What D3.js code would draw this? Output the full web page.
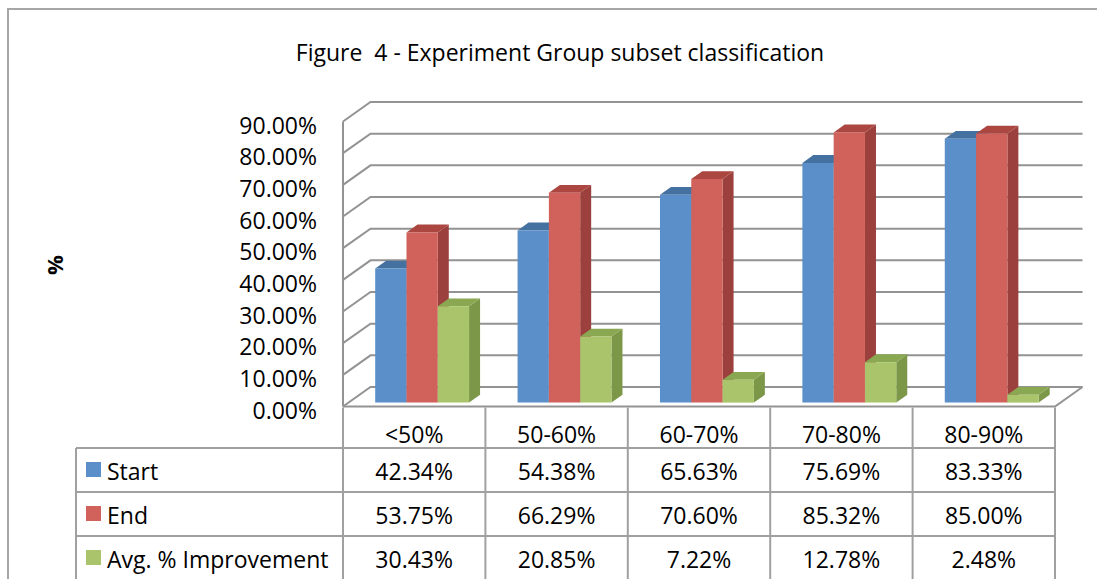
<!DOCTYPE html>
<html>
<head>
<meta charset="utf-8">
<script src="https://cdn.jsdelivr.net/npm/d3@7"></script>
<style>
body { margin:0; background:#fff; }
text { font-family:"Open Sans",Lato,sans-serif; fill:#000; white-space:pre; }
</style>
</head>
<body>
<svg id="chart" width="1097" height="579"></svg>
<script>
const categories = ["<50%","50-60%","60-70%","70-80%","80-90%"];
const seriesNames = ["Start","End","Avg. % Improvement"];
const startValues = [42.34,54.38,65.63,75.69,83.33];
const endValues = [53.75,66.29,70.60,85.32,85.00];
const improvementValues = [30.43,20.85,7.22,12.78,2.48];
const yTickValues = [0,10,20,30,40,50,60,70,80,90];

const seriesValues = [startValues,endValues,improvementValues];
const faceColors = ["#5b8fc9","#d0625b","#a9c46b"];
const topColors = ["#44719f","#ab4641","#8aa852"];
const sideColors = ["#3f6a97","#9b403c","#7b9747"];

const fontSize = 23;
const gridColor = "#939393";
const depthX = 27.5;
const depthY = 19.5;
const barFront = 0.2;
const barBack = 0.6;

const svg = d3.select("#chart");

const x = d3.scaleBand()
    .domain(categories)
    .range([343,1055]);

const xSeries = d3.scaleBand()
    .domain(seriesNames)
    .range([0,x.bandwidth()])
    .paddingOuter(0.775)
    .align(0.55);

const y = d3.scaleLinear()
    .domain([0,90])
    .range([406.5,121.5]);

// project a front-plane point back by a depth fraction
const project = (px,v,depth) => [px + depth*depthX, y(v) - depth*depthY];
const pts = (arr) => arr.map(p => p.join(",")).join(" ");

// outer chart frame
svg.append("path")
    .attr("d","M8,579 L8,9 L1097,9")
    .attr("fill","none")
    .attr("stroke","#a6a6a6")
    .attr("stroke-width",2);

svg.append("text")
    .text("Figure  4 - Experiment Group subset classification")
    .attr("x",560)
    .attr("y",61)
    .attr("text-anchor","middle")
    .attr("font-size",fontSize);

svg.append("text")
    .text("%")
    .attr("transform","translate(63,265) rotate(-90)")
    .attr("text-anchor","middle")
    .attr("font-weight","bold")
    .attr("font-size",fontSize - 1);

// walls
const walls = svg.append("g")
    .attr("fill","none")
    .attr("stroke",gridColor)
    .attr("stroke-width",2);

const x0 = x.range()[0];
const x1 = x.range()[1];

yTickValues.forEach(v =>
{
    const a = project(x0,v,0);
    const b = project(x0,v,1);
    const c = project(x1,v,1);
    walls.append("polyline")
        .attr("points",pts([a,b,c]));
});

walls.append("line")
    .attr("x1",x0).attr("y1",y(0))
    .attr("x2",x0).attr("y2",y(90));

// floor front and right edge
walls.append("polyline")
    .attr("points",pts([project(x0,0,0),project(x1,0,0),project(x1,0,1)]));

// y tick labels
svg.append("g")
    .selectAll("text")
    .data(yTickValues)
    .join("text")
    .text(d => d3.format(".2f")(d) + "%")
    .attr("x",317)
    .attr("y",d => y(d) + 12)
    .attr("text-anchor","end")
    .attr("font-size",fontSize);

// bars
const bars = svg.append("g");
categories.forEach((cat,i) =>
{
    seriesNames.forEach((s,j) =>
    {
        const v = seriesValues[j][i];
        const left = x(cat) + xSeries(s);
        const right = left + xSeries.bandwidth();
        const fl0 = project(left,0,barFront);
        const fr0 = project(right,0,barFront);
        const flt = project(left,v,barFront);
        const frt = project(right,v,barFront);
        const blt = project(left,v,barBack);
        const brt = project(right,v,barBack);
        const br0 = project(right,0,barBack);

        bars.append("polygon")
            .attr("points",pts([fr0,frt,brt,br0]))
            .attr("fill",sideColors[j]);
        bars.append("polygon")
            .attr("points",pts([flt,frt,brt,blt]))
            .attr("fill",topColors[j]);
        bars.append("polygon")
            .attr("points",pts([fl0,flt,frt,fr0]))
            .attr("fill",faceColors[j]);
    });
});

// data table
const table = svg.append("g");
const rowTop = 448;
const rowHeight = 44;
const tableLeft = 76;

table.selectAll("line.h")
    .data(d3.range(seriesNames.length))
    .join("line")
    .attr("x1",tableLeft)
    .attr("x2",x1)
    .attr("y1",d => rowTop + d*rowHeight)
    .attr("y2",d => rowTop + d*rowHeight)
    .attr("stroke","#a0a0a0")
    .attr("stroke-width",2);

table.append("line")
    .attr("x1",tableLeft).attr("x2",tableLeft)
    .attr("y1",rowTop).attr("y2",579)
    .attr("stroke","#a0a0a0")
    .attr("stroke-width",2);

table.selectAll("line.v")
    .data(categories.map(c => x(c)).concat([x1]))
    .join("line")
    .attr("x1",d => d)
    .attr("x2",d => d)
    .attr("y1",y(0) + 1)
    .attr("y2",579)
    .attr("stroke","#a0a0a0")
    .attr("stroke-width",2);

table.selectAll("text.cat")
    .data(categories)
    .join("text")
    .text(d => d)
    .attr("x",d => x(d) + x.bandwidth()/2)
    .attr("y",443)
    .attr("text-anchor","middle")
    .attr("font-size",fontSize);

seriesNames.forEach((s,j) =>
{
    const base = rowTop + j*rowHeight + 32;
    table.append("rect")
        .attr("x",86)
        .attr("y",base - 18)
        .attr("width",15)
        .attr("height",15)
        .attr("fill",faceColors[j]);
    table.append("text")
        .text(s)
        .attr("x",107)
        .attr("y",base)
        .attr("font-size",fontSize);
    table.selectAll(null)
        .data(seriesValues[j])
        .join("text")
        .text(d => d3.format(".2f")(d) + "%")
        .attr("x",(d,i) => x(categories[i]) + x.bandwidth()/2)
        .attr("y",base)
        .attr("text-anchor","middle")
        .attr("font-size",fontSize);
});
</script>
</body>
</html>
